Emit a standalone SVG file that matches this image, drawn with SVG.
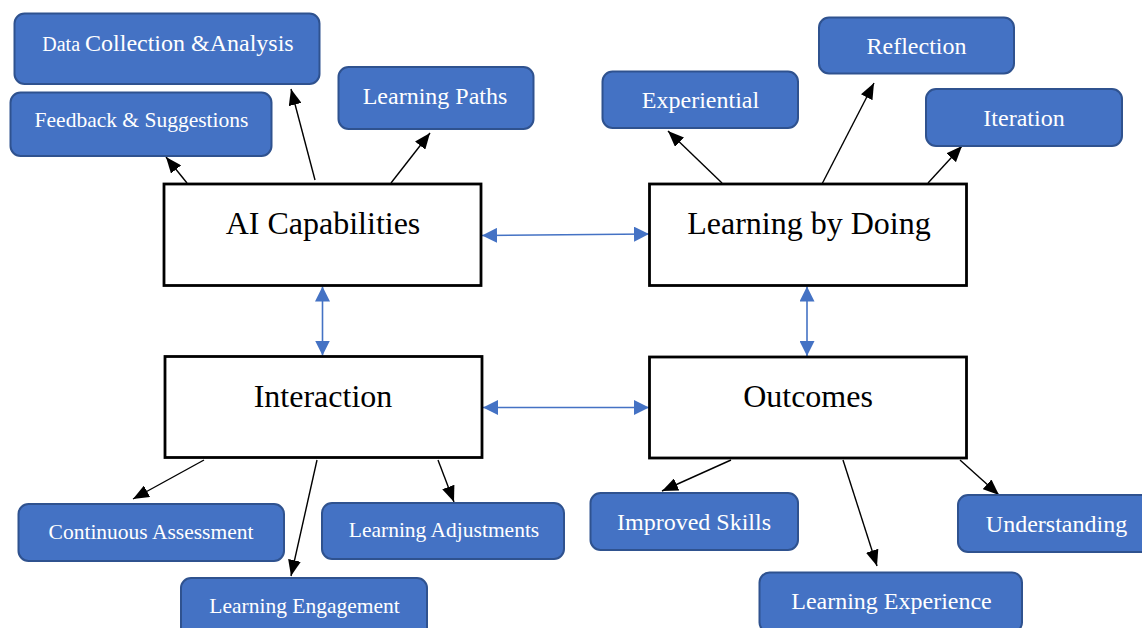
<svg xmlns="http://www.w3.org/2000/svg" width="1142" height="628" viewBox="0 0 1142 628">
<defs>
<style>
.main{fill:#fff;stroke:#000;stroke-width:2.8}
.main-t{font-size:32px;fill:#000;text-anchor:middle}
.sub{fill:#4472C4;stroke:#2F528F;stroke-width:2}
.sub-t{font-size:24px;fill:#fff;text-anchor:middle}
.sm{font-size:21.5px}
.blk{stroke:#000;stroke-width:1.4;fill:none;marker-end:url(#ah)}
.blu{stroke:#4472C4;stroke-width:1.6;fill:none;marker-start:url(#bh);marker-end:url(#bh)}
</style>
<marker id="ah" viewBox="0 0 16 13" refX="16" refY="6.5" markerWidth="16" markerHeight="13" markerUnits="userSpaceOnUse" orient="auto">
<path d="M0,0 L16,6.5 L0,13 z" fill="#000"/>
</marker>
<marker id="bh" viewBox="0 0 15 15" refX="15" refY="7.5" markerWidth="15" markerHeight="15" markerUnits="userSpaceOnUse" orient="auto-start-reverse">
<path d="M0,0 L15,7.5 L0,15 z" fill="#4472C4"/>
</marker>
</defs>
<rect width="1142" height="628" fill="#fff"/>

<g id="connectors">
<line class="blk" x1="187" y1="183" x2="166" y2="157"/>
<line class="blk" x1="315" y1="180" x2="291" y2="89"/>
<line class="blk" x1="391" y1="183" x2="430" y2="133"/>
<line class="blk" x1="722" y1="183" x2="668" y2="131"/>
<line class="blk" x1="822" y1="184" x2="874" y2="83"/>
<line class="blk" x1="928" y1="183" x2="962" y2="146"/>
<line class="blk" x1="204" y1="460" x2="133" y2="499"/>
<line class="blk" x1="317" y1="460" x2="291" y2="576"/>
<line class="blk" x1="438" y1="460" x2="454" y2="502"/>
<line class="blk" x1="731" y1="460" x2="662" y2="491"/>
<line class="blk" x1="843" y1="460" x2="877" y2="566"/>
<line class="blk" x1="960" y1="460" x2="999" y2="495"/>
<line class="blu" x1="482" y1="235.5" x2="649" y2="234"/>
<line class="blu" x1="322.5" y1="286.5" x2="322.5" y2="355.5"/>
<line class="blu" x1="483" y1="407.5" x2="649" y2="407.5"/>
<line class="blu" x1="807" y1="286.5" x2="807" y2="356"/>
</g>

<g font-family="Liberation Serif, Times New Roman, Tinos, serif">
<g id="ai-capabilities">
<rect class="main" x="164" y="184" width="317" height="101.5"/>
<text class="main-t" x="323" y="234">AI Capabilities</text>
</g>
<g id="learning-by-doing">
<rect class="main" x="649.5" y="184" width="317" height="101.5"/>
<text class="main-t" x="809" y="234">Learning by Doing</text>
</g>
<g id="interaction">
<rect class="main" x="165" y="356.5" width="317" height="101"/>
<text class="main-t" x="323" y="407">Interaction</text>
</g>
<g id="outcomes">
<rect class="main" x="649.5" y="357" width="317" height="101"/>
<text class="main-t" x="808" y="407">Outcomes</text>
</g>

<g id="data-collection">
<rect class="sub" x="14.5" y="13.5" width="305" height="70.5" rx="10"/>
<text class="sub-t" x="168" y="51"><tspan font-size="20">Data </tspan>Collection &amp;Analysis</text>
</g>
<g id="feedback">
<rect class="sub" x="10.5" y="92.5" width="261" height="63.5" rx="10"/>
<text class="sub-t sm" x="141.5" y="127">Feedback &amp; Suggestions</text>
</g>
<g id="learning-paths">
<rect class="sub" x="338.5" y="67" width="195" height="62" rx="10"/>
<text class="sub-t" x="435" y="103.5">Learning Paths</text>
</g>
<g id="experiential">
<rect class="sub" x="602.5" y="71.5" width="195.5" height="56.5" rx="10"/>
<text class="sub-t" x="700.5" y="108">Experiential</text>
</g>
<g id="reflection">
<rect class="sub" x="819" y="17.5" width="195" height="56" rx="10"/>
<text class="sub-t" x="916.5" y="54">Reflection</text>
</g>
<g id="iteration">
<rect class="sub" x="926" y="89" width="196" height="57" rx="10"/>
<text class="sub-t" x="1024" y="126">Iteration</text>
</g>
<g id="continuous-assessment">
<rect class="sub" x="18.5" y="504" width="265.5" height="57" rx="10"/>
<text class="sub-t sm" x="151" y="539">Continuous Assessment</text>
</g>
<g id="learning-engagement">
<rect class="sub" x="181" y="578" width="246" height="60" rx="10"/>
<text class="sub-t sm" x="304.5" y="613">Learning Engagement</text>
</g>
<g id="learning-adjustments">
<rect class="sub" x="322" y="503" width="242" height="56" rx="10"/>
<text class="sub-t sm" x="444" y="537">Learning Adjustments</text>
</g>
<g id="improved-skills">
<rect class="sub" x="590.5" y="493" width="207.5" height="57" rx="10"/>
<text class="sub-t" x="694" y="530">Improved Skills</text>
</g>
<g id="learning-experience">
<rect class="sub" x="759.5" y="572.5" width="262.5" height="60" rx="10"/>
<text class="sub-t" x="891.5" y="609">Learning Experience</text>
</g>
<g id="understanding">
<rect class="sub" x="958" y="495" width="194" height="57" rx="10"/>
<text class="sub-t" x="1056.5" y="532">Understanding</text>
</g>
</g>
</svg>
